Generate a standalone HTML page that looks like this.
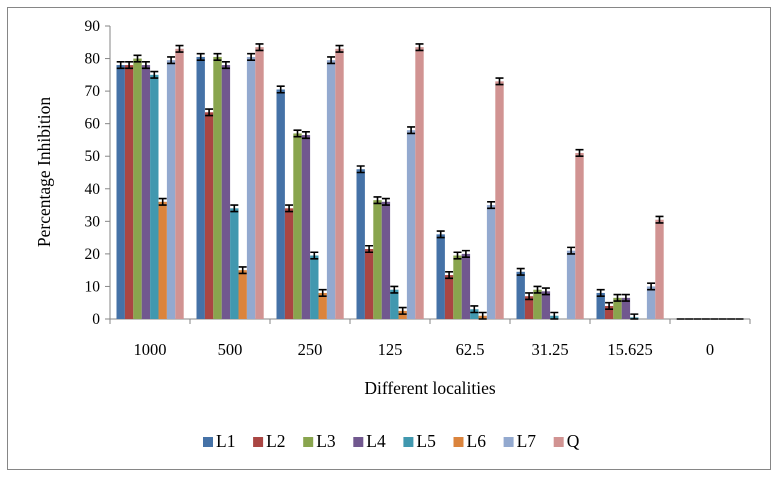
<!DOCTYPE html>
<html><head><meta charset="utf-8"><style>
body{margin:0;background:#fff}
svg{display:block;font-family:"Liberation Serif",serif}
</style></head><body>
<svg id="c" width="780" height="477">
<rect x="7.5" y="7.5" width="763" height="462" fill="#fff" stroke="#868686"/>
<g id="g"></g>
</svg>
<script>
const categories=["1000","500","250","125","62.5","31.25","15.625","0"];
const seriesNames=["L1","L2","L3","L4","L5","L6","L7","Q"];
const colors=["#4572A7","#AA4643","#89A54E","#71588F","#4198AF","#DB843D","#93A9CF","#D19392"];
const L1=[78,80.5,70.5,46,26,14.5,8,0];
const L2=[78,63.5,34,21.5,13.5,7,4,0];
const L3=[80,80.5,57,36.5,19.5,9,6.5,0];
const L4=[78,78,56.5,36,20,8.5,6.5,0];
const L5=[75,34,19.5,9,3,1,0.5,0];
const L6=[36,15,8,2.5,1,0,0,0];
const L7=[79.5,80.5,79.5,58,35,21,10,0];
const Q=[83,83.5,83,83.5,73,51,30.5,0];
const errs=[1,1,1,1,1,1,1,0];
const yTicks=[0,10,20,30,40,50,60,70,80,90];
const series=[L1,L2,L3,L4,L5,L6,L7,Q];
const NS="http://www.w3.org/2000/svg";
const g=document.getElementById('g');
const X0=110,GW=80,Y0=319,YT=26,YMAX=90;
const y=v=>Y0-(v/YMAX)*(Y0-YT);
const BW=8.4,OFF=6.5;
function mk(t,a,txt){const e=document.createElementNS(NS,t);for(const k in a)e.setAttribute(k,a[k]);if(txt!==undefined)e.textContent=txt;g.appendChild(e);return e;}
let e=mk('line',{x1:X0,y1:YT,x2:X0,y2:Y0,stroke:'#868686'});


e=mk('line',{x1:X0,y1:Y0,x2:X0+GW*categories.length,y2:Y0,stroke:'#868686'});


yTicks.forEach(t=>{
  const l=mk('line',{x1:X0-5,y1:y(t),x2:X0,y2:y(t),stroke:'#868686'});
  
  
  const tx=mk('text',{x:X0-10,y:y(t)+5,'text-anchor':'end','font-size':15.5},t);
  
  
});
for(let i=0;i<=categories.length;i++){
  const l=mk('line',{x1:X0+i*GW,y1:Y0,x2:X0+i*GW,y2:Y0+5,stroke:'#868686'});
  
  
}
categories.forEach((c,i)=>{
  const tx=mk('text',{x:X0+i*GW+GW/2,y:355,'text-anchor':'middle','font-size':16.5},c);
  
  
});
series.forEach((s,si)=>{
  s.forEach((v,ci)=>{
    const x=X0+ci*GW+OFF+si*BW;
    const r=mk('rect',{x:x,y:y(v),width:BW,height:Y0-y(v),fill:colors[si]});
    
    
    const er=errs[ci];
    if(v===0&&er>0)return;
    const cx=x+BW/2,hw=4;
    const p=mk('path',{d:`M${cx-hw},${y(v+er)}H${cx+hw}M${cx},${y(v+er)}V${y(Math.max(v-er,0))}M${cx-hw},${y(Math.max(v-er,0))}H${cx+hw}`,stroke:'#000','stroke-width':1.6,fill:'none'});
    
    
  });
});
e=mk('text',{x:430,y:394,'text-anchor':'middle','font-size':17.5},'Different localities');


e=mk('text',{x:50,y:172,'text-anchor':'middle','font-size':17.5,transform:'rotate(-90 50 172)'},'Percentage Inhibition');


seriesNames.forEach((n,i)=>{
  const lx=203+i*50.1;
  const r=mk('rect',{x:lx,y:437,width:10,height:10,fill:colors[i]});
  
  
  const t=mk('text',{x:lx+13,y:447,'font-size':17.5},n);
  
  
});
</script>
</body></html>
